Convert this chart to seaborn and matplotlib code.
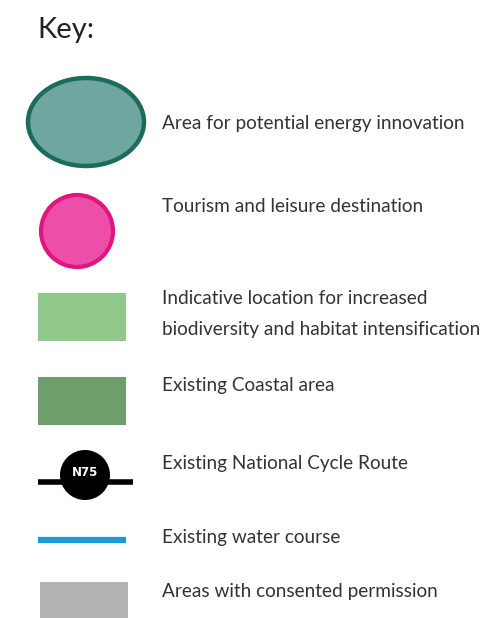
import matplotlib.pyplot as plt
import matplotlib.patches as mpatches
import seaborn as sns

# legend entries
labels = [
    "Area for potential energy innovation",
    "Tourism and leisure destination",
    "Indicative location for increased\nbiodiversity and habitat intensification",
    "Existing Coastal area",
    "Existing National Cycle Route",
    "Existing water course",
    "Areas with consented permission",
]
route_name = "N75"
title = "Key:"

sns.set_theme(style="white")
plt.rcParams['font.family'] = ['Lato', 'DejaVu Sans']

fig = plt.figure(figsize=(4.9, 6.18), dpi=100)
ax = fig.add_axes([0, 0, 1, 1])
ax.set_xlim(0, 490)
ax.set_ylim(618, 0)
ax.axis("off")

ax.text(37, 30, title, fontsize=21, color="#222222", va="center", ha="left")

# symbols
ax.add_patch(mpatches.Ellipse((86, 122), 116, 88, facecolor="#6fa6a0",
                              edgecolor="#1d6b5b", linewidth=3.2))
ax.add_patch(mpatches.Circle((77, 231), 36, facecolor="#ec4ea8",
                             edgecolor="#e01680", linewidth=3))
ax.add_patch(mpatches.Rectangle((38, 293), 88, 48, facecolor="#90c98a", edgecolor="none"))
ax.add_patch(mpatches.Rectangle((38, 377), 88, 48, facecolor="#6e9e6c", edgecolor="none"))
ax.plot([38, 133], [482, 482], color="black", linewidth=4, solid_capstyle="butt")
ax.add_patch(mpatches.Circle((85, 475), 25, facecolor="black", edgecolor="none", zorder=3))
ax.text(85, 473, route_name, color="white", fontsize=8.5, fontweight="bold",
        ha="center", va="center", family="DejaVu Sans", zorder=4)
ax.plot([38, 126], [540, 540], color="#1b9ad6", linewidth=4.5, solid_capstyle="butt")
ax.add_patch(mpatches.Rectangle((40, 582), 88, 40, facecolor="#b3b3b3", edgecolor="none"))

# label positions
text_y = [123, 206, 314, 385, 463, 537, 591]
for lab, y in zip(labels, text_y):
    ax.text(162, y, lab, fontsize=13.7, color="#333333", va="center", ha="left",
            linespacing=2.0)

fig.savefig("out.png", dpi=100)
